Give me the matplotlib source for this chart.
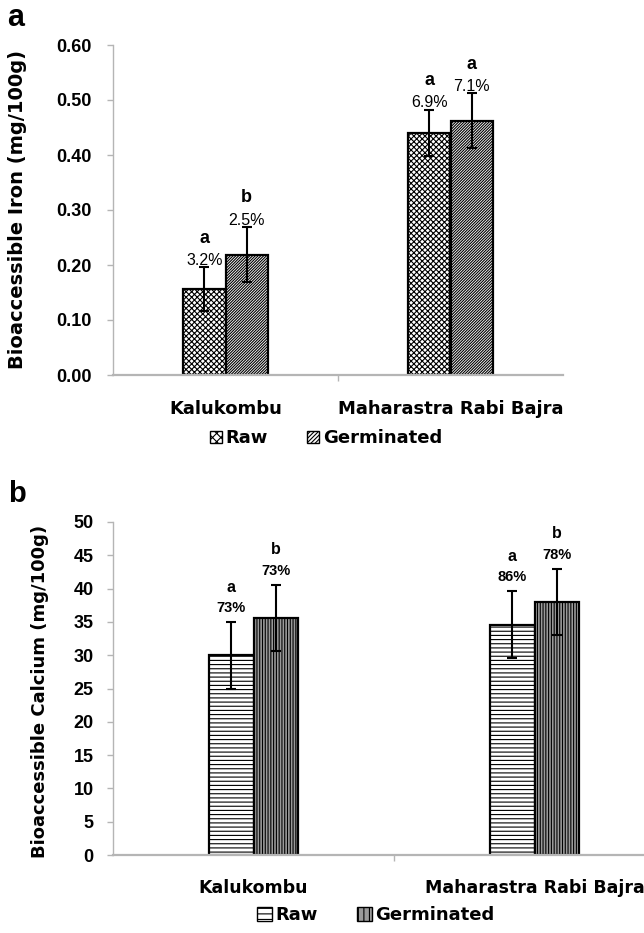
import matplotlib
matplotlib.use("Agg")
import matplotlib.pyplot as plt
from matplotlib.patches import Patch
import numpy as np

# ---------------- data ----------------
categories = ['Kalukombu', 'Maharastra Rabi Bajra']
series = ['Raw', 'Germinated']

iron_raw = [0.156, 0.440]
iron_raw_err = [0.040, 0.042]
iron_germ = [0.219, 0.462]
iron_germ_err = [0.050, 0.050]
iron_raw_pct = ['3.2%', '6.9%']
iron_germ_pct = ['2.5%', '7.1%']
iron_raw_sig = ['a', 'a']
iron_germ_sig = ['b', 'a']

ca_raw = [30.0, 34.6]
ca_raw_err = [5.0, 5.0]
ca_germ = [35.6, 38.0]
ca_germ_err = [5.0, 5.0]
ca_raw_pct = ['73%', '86%']
ca_germ_pct = ['73%', '78%']
ca_raw_sig = ['a', 'a']
ca_germ_sig = ['b', 'b']

iron_ticks = [0.0, 0.1, 0.2, 0.3, 0.4, 0.5, 0.6]
ca_ticks = [0, 5, 10, 15, 20, 25, 30, 35, 40, 45, 50]

# ---------------- style ----------------
plt.rcParams['hatch.linewidth'] = 0.8
plt.rcParams['hatch.color'] = 'black'
AX_GRAY = '#b5b5b5'
TICKFONT = dict(family='Liberation Sans', weight='bold', size=13)

W, H = 644, 933
fig = plt.figure(figsize=(W / 100, H / 100), dpi=100)


def rect(l, t, r, b):
    return [l / W, 1 - b / H, (r - l) / W, (b - t) / H]


axA = fig.add_axes(rect(113, 45, 563, 375))
axB = fig.add_axes(rect(113, 522, 675, 855))


def style_axes(ax, ylim, yticks, fmt, pad_y, pad_x, xsize):
    for s in ('top', 'right'):
        ax.spines[s].set_visible(False)
    ax.spines['left'].set_color(AX_GRAY)
    ax.spines['left'].set_linewidth(1.0)
    ax.spines['bottom'].set_color(AX_GRAY)
    ax.spines['bottom'].set_linewidth(1.6)
    ax.set_ylim(*ylim)
    ax.set_yticks(yticks)
    ax.set_yticklabels([fmt.format(v) for v in yticks], fontdict=TICKFONT)
    ax.tick_params(axis='y', direction='out', length=4.5, width=1, color=AX_GRAY, pad=pad_y)
    ax.set_xlim(-0.5, 1.5)
    ax.set_xticks(np.arange(len(categories)))
    ax.set_xticklabels(categories, family='DejaVu Sans', weight='bold', size=xsize)
    ax.tick_params(axis='x', which='major', length=0, pad=pad_x)
    ax.set_xticks([0.5], minor=True)
    ax.tick_params(axis='x', which='minor', direction='out', length=4.5, width=1, color=AX_GRAY)


def draw_bars(ax, raw, raw_err, germ, germ_err, width, hatch_raw, hatch_germ, fc_germ):
    x = np.arange(len(categories))
    ax.bar(x - width / 2, raw, width, facecolor='white', edgecolor='black',
           linewidth=1.6, hatch=hatch_raw, zorder=2)
    ax.bar(x + width / 2, germ, width, facecolor=fc_germ, edgecolor='black',
           linewidth=1.6, hatch=hatch_germ, zorder=2)
    ax.errorbar(x - width / 2, raw, yerr=raw_err, fmt='none', ecolor='black',
                elinewidth=1.5, capsize=3.5, capthick=1.5, zorder=3)
    ax.errorbar(x + width / 2, germ, yerr=germ_err, fmt='none', ecolor='black',
                elinewidth=1.5, capsize=3.5, capthick=1.5, zorder=3)
    return x


def draw_labels(ax, xs, tops, pcts, sigs, pct_off, sig_off, pct_font, sig_font):
    for xx, top, p, s in zip(xs, tops, pcts, sigs):
        ax.annotate(p, (xx, top), xytext=(0, pct_off), textcoords='offset points',
                    ha='center', va='center', zorder=4, **pct_font)
        ax.annotate(s, (xx, top), xytext=(0, sig_off), textcoords='offset points',
                    ha='center', va='center', zorder=4, **sig_font)


# ---------------- panel a ----------------
style_axes(axA, (0, 0.6), iron_ticks, '{:.2f}', 11, 18, 13)
wA = 0.187
xA = draw_bars(axA, iron_raw, iron_raw_err, iron_germ, iron_germ_err, wA,
               'xxxxxx', '////////////', 'white')
pctA = dict(family='Liberation Sans', size=11.5)
sigA = dict(family='Liberation Sans', weight='bold', size=13)
draw_labels(axA, xA - wA / 2, np.add(iron_raw, iron_raw_err), iron_raw_pct, iron_raw_sig, 5, 21, pctA, sigA)
draw_labels(axA, xA + wA / 2, np.add(iron_germ, iron_germ_err), iron_germ_pct, iron_germ_sig, 5, 21, pctA, sigA)
axA.set_ylabel('Bioaccessible Iron (mg/100g)', family='DejaVu Sans', weight='bold', size=14)
axA.yaxis.set_label_coords(-0.192, 0.503)

# ---------------- panel b ----------------
style_axes(axB, (0, 50), ca_ticks, '{:d}', 9.4, 17, 12.5)
wB = 0.157
xB = draw_bars(axB, ca_raw, ca_raw_err, ca_germ, ca_germ_err, wB,
               '----', '||||||', '#9a9a9a')
pctB = dict(family='Liberation Sans', weight='bold', size=10.5)
sigB = dict(family='Liberation Sans', weight='bold', size=11.5)
draw_labels(axB, xB - wB / 2, np.add(ca_raw, ca_raw_err), ca_raw_pct, ca_raw_sig, 10, 25, pctB, sigB)
draw_labels(axB, xB + wB / 2, np.add(ca_germ, ca_germ_err), ca_germ_pct, ca_germ_sig, 10, 25, pctB, sigB)
axB.set_ylabel('Bioaccessible Calcium (mg/100g)', family='DejaVu Sans', weight='bold', size=13)
axB.yaxis.set_label_coords(-0.114, 0.49)

# ---------------- legends ----------------
legfont = dict(family='DejaVu Sans', weight='bold', size=13)
handlesA = [Patch(facecolor='white', edgecolor='black', hatch='xxxx', label=series[0]),
            Patch(facecolor='white', edgecolor='black', hatch='////////', label=series[1])]
fig.legend(handles=handlesA, loc='center', bbox_to_anchor=(326 / W, 1 - 438 / H), ncol=2,
           frameon=False, handlelength=0.65, handleheight=0.65, handletextpad=0.2,
           columnspacing=2.2, prop=legfont, borderaxespad=0)
handlesB = [Patch(facecolor='white', edgecolor='black', hatch='---', label=series[0]),
            Patch(facecolor='#9a9a9a', edgecolor='black', hatch='|||', label=series[1])]
fig.legend(handles=handlesB, loc='center', bbox_to_anchor=(376 / W, 1 - 915 / H), ncol=2,
           frameon=False, handlelength=0.8, handleheight=0.8, handletextpad=0.2,
           columnspacing=2.2, prop=legfont, borderaxespad=0)

# ---------------- panel letters ----------------
fig.text(16 / W, 1 - 18 / H, 'a', family='Liberation Sans', weight='bold', size=22,
         ha='center', va='center')
fig.text(17 / W, 1 - 494 / H, 'b', family='Liberation Sans', weight='bold', size=21,
         ha='center', va='center')

fig.savefig('out.png', dpi=100)
